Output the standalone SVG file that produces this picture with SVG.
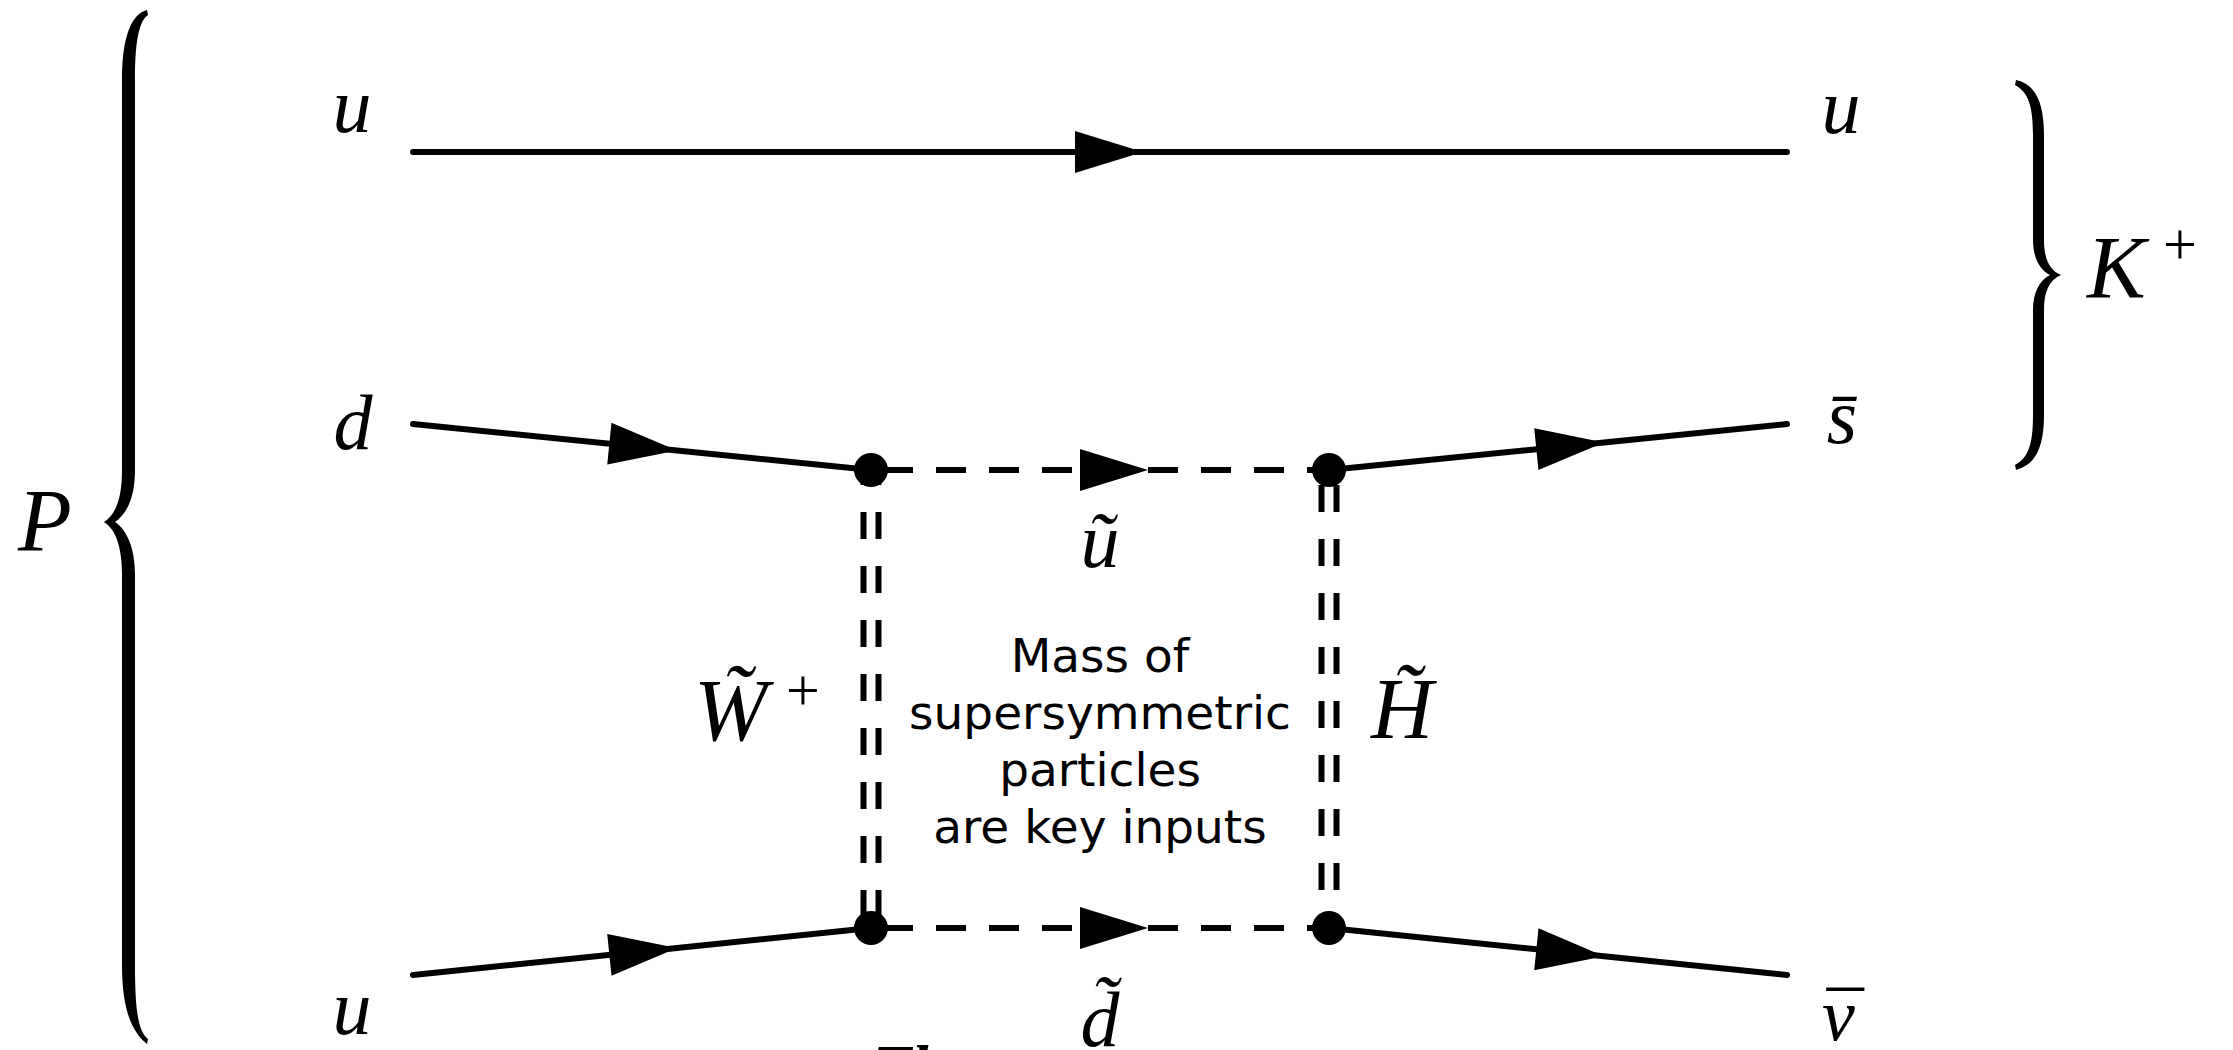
<svg xmlns="http://www.w3.org/2000/svg" width="2233" height="1050" viewBox="0 0 2233 1050">
<style>
.math{font-family:"Liberation Serif","Times New Roman",serif;font-style:italic;fill:#000}
.up{font-family:"Liberation Serif","Times New Roman",serif;font-style:normal;fill:#000}
.note{font-family:"DejaVu Sans","Verdana",sans-serif;font-size:47px;fill:#000;text-anchor:middle}
.solid{fill:none;stroke:#000;stroke-width:6;stroke-linecap:round;marker-mid:url(#arr)}
.dash{fill:none;stroke:#000;stroke-width:6;stroke-dasharray:30 23;stroke-dashoffset:41;marker-mid:url(#arr)}
.dbl{fill:none;stroke:#000;stroke-width:6;stroke-dasharray:27 27}
.brace{fill:#000}
.dot{fill:#000}
</style>
<defs>
<marker id="arr" markerUnits="userSpaceOnUse" markerWidth="80" markerHeight="50" viewBox="-70 -25 80 50" refX="0" refY="0" orient="auto">
<path d="M0 0 L-68 -21 L-68 21 Z" fill="#000"/>
</marker>
</defs>
<rect width="2233" height="1050" fill="#fff"/>

<g id="connectors">
<path id="top-u" class="solid" d="M413 152 L1143 152 L1787 152"/>
<path id="d-in" class="solid" d="M413 424 L677 450.5 L871 470"/>
<path id="sbar-out" class="solid" d="M1329 470 L1604 442.4 L1787 424"/>
<path id="u-in" class="solid" d="M413 975 L677 947.9 L871 928"/>
<path id="nubar-out" class="solid" d="M1329 928 L1604 956.2 L1787 975"/>
<path id="squark-u" class="dash" d="M871 470 L1148 470 L1329 470"/>
<path id="squark-d" class="dash" d="M871 928 L1148 928 L1329 928"/>
<g id="wino">
<path class="dbl" style="stroke-dashoffset:12" d="M863.5 470 L863.5 928"/>
<path class="dbl" style="stroke-dashoffset:12" d="M878.5 470 L878.5 928"/>
</g>
<g id="higgsino">
<path class="dbl" style="stroke-dashoffset:39" d="M1321.5 470 L1321.5 928"/>
<path class="dbl" style="stroke-dashoffset:39" d="M1336.5 470 L1336.5 928"/>
</g>
</g>

<g id="vertices">
<circle id="v-top-left" class="dot" cx="871" cy="470" r="17"/>
<circle id="v-top-right" class="dot" cx="1329" cy="470" r="17"/>
<circle id="v-bottom-left" class="dot" cx="871" cy="928" r="17"/>
<circle id="v-bottom-right" class="dot" cx="1329" cy="928" r="17"/>
</g>

<g id="proton">
<path class="brace" d="M147 10 C132 14 122 35 122 80 L122 470 C122 500 115 515 104 522 C115 529 122 545 122 575 L122 965 C122 1010 132 1032 147 1044 L148 1039 C138 1031 135 1010 135 965 L135 575 C135 548 127 530 115 522 C127 514 135 497 135 470 L135 80 C135 45 138 22 148 15 Z"/>
<text class="math" x="18" y="550" font-size="88">P</text>
</g>

<g id="kaon">
<path class="brace" d="M2016 80 C2034 84 2044 100 2044 135 L2044 240 C2044 258 2049 270 2061 275 C2049 280 2044 292 2044 310 L2044 415 C2044 450 2034 465 2016 470 L2015 465 C2028 458 2033 445 2033 415 L2033 310 C2033 292 2040 280 2050 275 C2040 270 2033 258 2033 240 L2033 135 C2033 105 2028 92 2015 85 Z"/>
<text class="math" x="2087" y="297" font-size="88">K</text>
<text class="up" x="2163" y="264" font-size="60">+</text>
</g>

<g id="labels">
<text id="lbl-u1" class="math" x="352" y="132" font-size="78" text-anchor="middle">u</text>
<text id="lbl-d" class="math" x="353" y="449" font-size="78" text-anchor="middle">d</text>
<text id="lbl-u2" class="math" x="352" y="1034" font-size="78" text-anchor="middle">u</text>
<text id="lbl-u3" class="math" x="1841" y="133" font-size="78" text-anchor="middle">u</text>
<text id="lbl-sbar" class="math" x="1842" y="443" font-size="78" text-anchor="middle">s̄</text>
<text id="lbl-nubar" class="math" x="1822" y="1040" font-size="74">ν<tspan class="up" dx="-28" dy="4">¯</tspan></text>
<text id="lbl-utilde" class="math" x="1100" y="567" font-size="78" text-anchor="middle">ũ</text>
<text id="lbl-dtilde" class="math" x="1100" y="1046" font-size="78" text-anchor="middle">d̃</text>
<g id="lbl-wino">
<text class="math" x="694" y="740" font-size="88">W̃</text>
<text class="up" x="786" y="710" font-size="60">+</text>
</g>
<text id="lbl-higgsino" class="math" x="1371" y="738" font-size="86">H̃</text>
</g>

<g id="note">
<text class="note" x="1100" y="672">Mass of</text>
<text class="note" x="1100" y="729">supersymmetric</text>
<text class="note" x="1100" y="786">particles</text>
<text class="note" x="1100" y="843">are key inputs</text>
</g>

<text id="cut-text" class="math" x="872" y="1089" font-size="64" font-weight="bold">Th</text>
</svg>
